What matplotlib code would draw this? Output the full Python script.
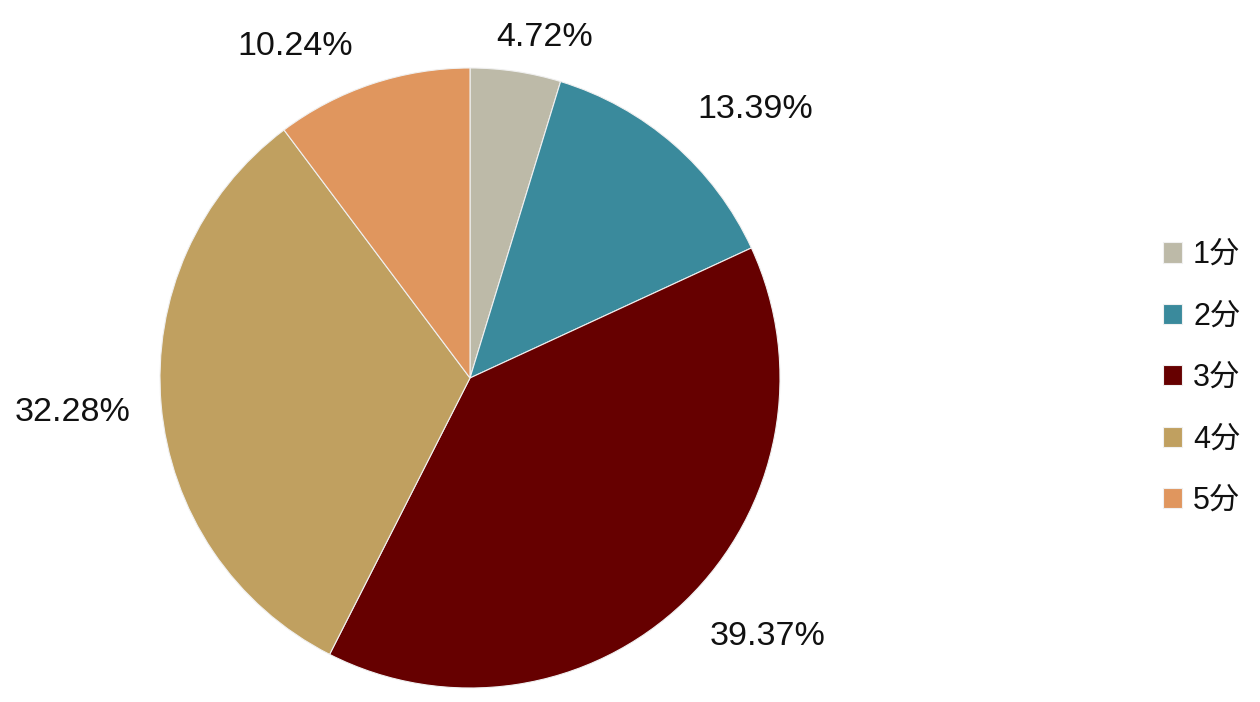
import matplotlib
matplotlib.use("Agg")
import matplotlib.pyplot as plt
import numpy as np

plt.rcParams['font.family'] = ['Liberation Sans', 'Noto Sans CJK SC', 'DejaVu Sans']

categories = ['1分', '2分', '3分', '4分', '5分']
values = [4.72, 13.39, 39.37, 32.28, 10.24]
colors = ['#BDBAA8', '#3A8A9C', '#660000', '#C0A060', '#E0965E']
label_pos = [(0.242, 1.097), (0.919, 0.865), (0.961, -0.835), (-1.281, -0.110), (-0.565, 1.068)]

fig = plt.figure(figsize=(12.6, 7.02), dpi=100)
ax = fig.add_axes([160/1260, 14/702, 620/1260, 620/702])
wedges, _ = ax.pie(values, colors=colors, startangle=90, counterclock=False,
                   radius=1.0, wedgeprops=dict(linewidth=0.8, edgecolor='#f0f0f0'))
ax.set_xlim(-1, 1)
ax.set_ylim(-1, 1)
ax.set_aspect('auto')
ax.axis('off')

for v, (x, y) in zip(values, label_pos):
    ax.text(x, y, f'{v:.2f}%', ha='center', va='center', fontsize=24.5, color='#111111',
            clip_on=False)

leg = fig.legend(wedges, categories, loc='center left', bbox_to_anchor=(1135/1260, 1 - 378/702),
                 frameon=False, fontsize=22, handlelength=0.65, handleheight=0.65,
                 handletextpad=0.35, labelspacing=1.03)
for t in leg.get_texts():
    t.set_color('#111111')
fig.savefig('out.png', dpi=100)
